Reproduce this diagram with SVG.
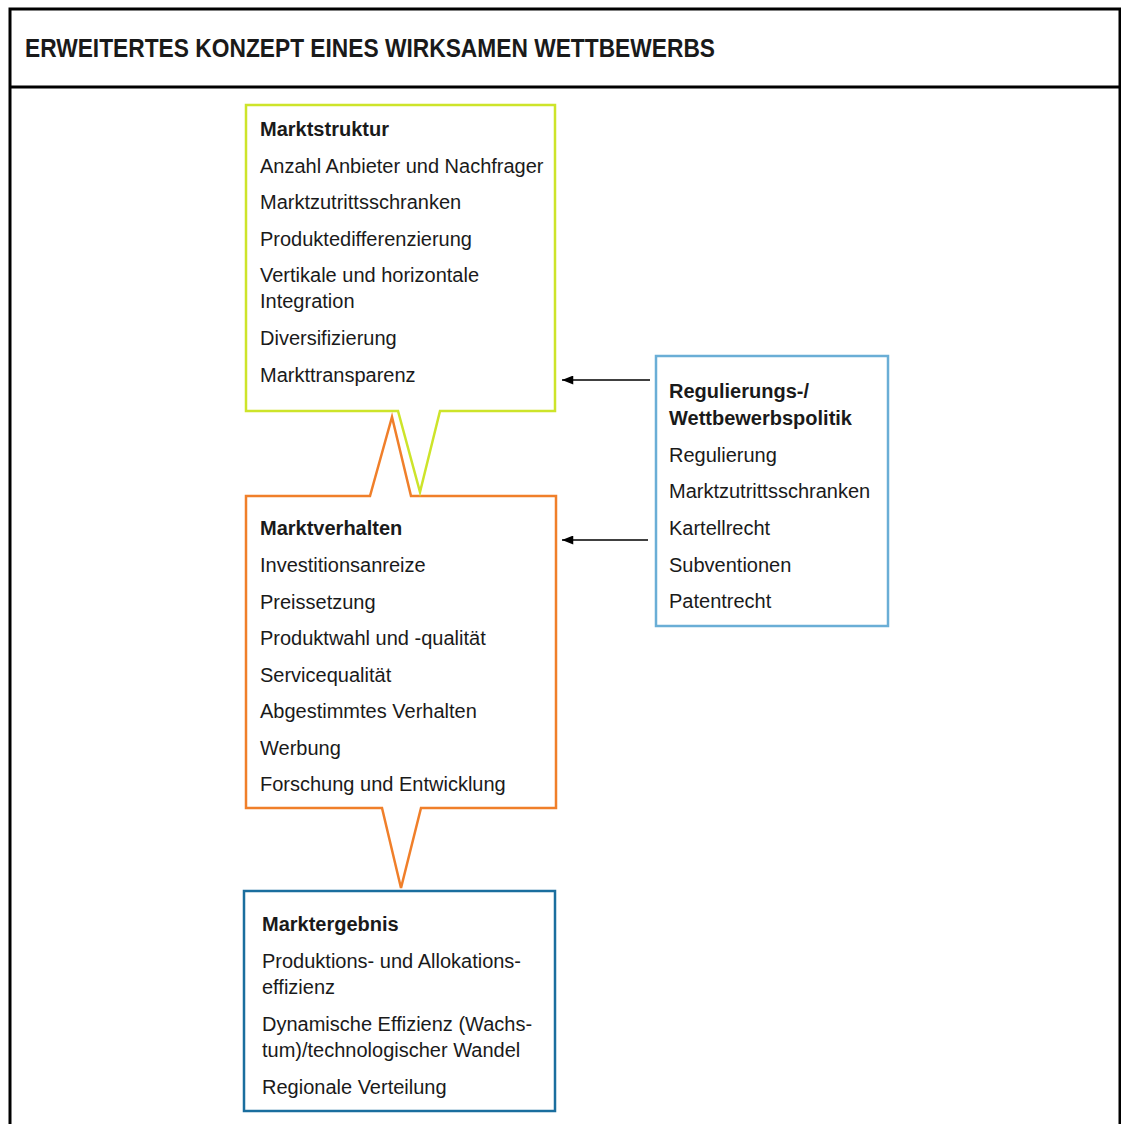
<svg xmlns="http://www.w3.org/2000/svg" width="1121" height="1124" viewBox="0 0 1121 1124">
<defs>
<style>
.t{font-family:"Liberation Sans",Arial,sans-serif;font-size:20px;fill:#1a1a1a}
.b{font-weight:bold}
.box{fill:#fff;stroke-width:2.5}
</style>
<marker id="ah2" viewBox="0 0 10 8" refX="10" refY="4" markerWidth="16" markerHeight="9" markerUnits="userSpaceOnUse" orient="auto"><path d="M0,0 L10,4 L0,8 Z" fill="#000"/></marker>
</defs>
<rect width="1121" height="1124" fill="#fff"/>
<g id="frame">
<path d="M10,1124 V9 H1120 V1124" fill="none" stroke="#000" stroke-width="3"/>
<line x1="10" y1="87" x2="1120" y2="87" stroke="#000" stroke-width="3"/>
<text x="25" y="57" class="t b" style="font-size:26px" textLength="690" lengthAdjust="spacingAndGlyphs">ERWEITERTES KONZEPT EINES WIRKSAMEN WETTBEWERBS</text>
</g>
<g id="marktergebnis">
<rect x="244" y="891" width="311" height="220" class="box" stroke="#1a6e9e"/>
<text class="t" x="262"><tspan y="931" class="b">Marktergebnis</tspan><tspan x="262" y="968">Produktions- und Allokations-</tspan><tspan x="262" y="994">effizienz</tspan><tspan x="262" y="1031">Dynamische Effizienz (Wachs-</tspan><tspan x="262" y="1057">tum)/technologischer Wandel</tspan><tspan x="262" y="1094">Regionale Verteilung</tspan></text>
</g>
<g id="marktverhalten">
<path d="M246,496 H370 L392,417 L411,496 H556 V808 H421 L401,888 L382,808 H246 Z" class="box" stroke="#f07f2a"/>
<text class="t" x="260"><tspan y="535" class="b">Marktverhalten</tspan><tspan x="260" y="572">Investitionsanreize</tspan><tspan x="260" y="609">Preissetzung</tspan><tspan x="260" y="645">Produktwahl und -qualität</tspan><tspan x="260" y="682">Servicequalität</tspan><tspan x="260" y="718">Abgestimmtes Verhalten</tspan><tspan x="260" y="755">Werbung</tspan><tspan x="260" y="791">Forschung und Entwicklung</tspan></text>
</g>
<g id="marktstruktur">
<path d="M246,105 H555 V411 H440 L420,492 L398,411 H246 Z" class="box" stroke="#cde42a"/>
<text class="t" x="260"><tspan y="136" class="b">Marktstruktur</tspan><tspan x="260" y="173">Anzahl Anbieter und Nachfrager</tspan><tspan x="260" y="209">Marktzutrittsschranken</tspan><tspan x="260" y="246">Produktedifferenzierung</tspan><tspan x="260" y="282">Vertikale und horizontale</tspan><tspan x="260" y="308">Integration</tspan><tspan x="260" y="345">Diversifizierung</tspan><tspan x="260" y="382">Markttransparenz</tspan></text>
</g>
<g id="politik">
<rect x="656" y="356" width="232" height="270" class="box" stroke="#6aaed6"/>
<text class="t" x="669"><tspan y="398" class="b">Regulierungs-/</tspan><tspan x="669" y="425" class="b">Wettbewerbspolitik</tspan><tspan x="669" y="462">Regulierung</tspan><tspan x="669" y="498">Marktzutrittsschranken</tspan><tspan x="669" y="535">Kartellrecht</tspan><tspan x="669" y="572">Subventionen</tspan><tspan x="669" y="608">Patentrecht</tspan></text>
</g>
<g id="connectors" stroke="#000" stroke-width="1.5">
<line x1="650" y1="380" x2="562" y2="380" marker-end="url(#ah2)"/>
<line x1="648" y1="540" x2="562" y2="540" marker-end="url(#ah2)"/>
</g>
</svg>
